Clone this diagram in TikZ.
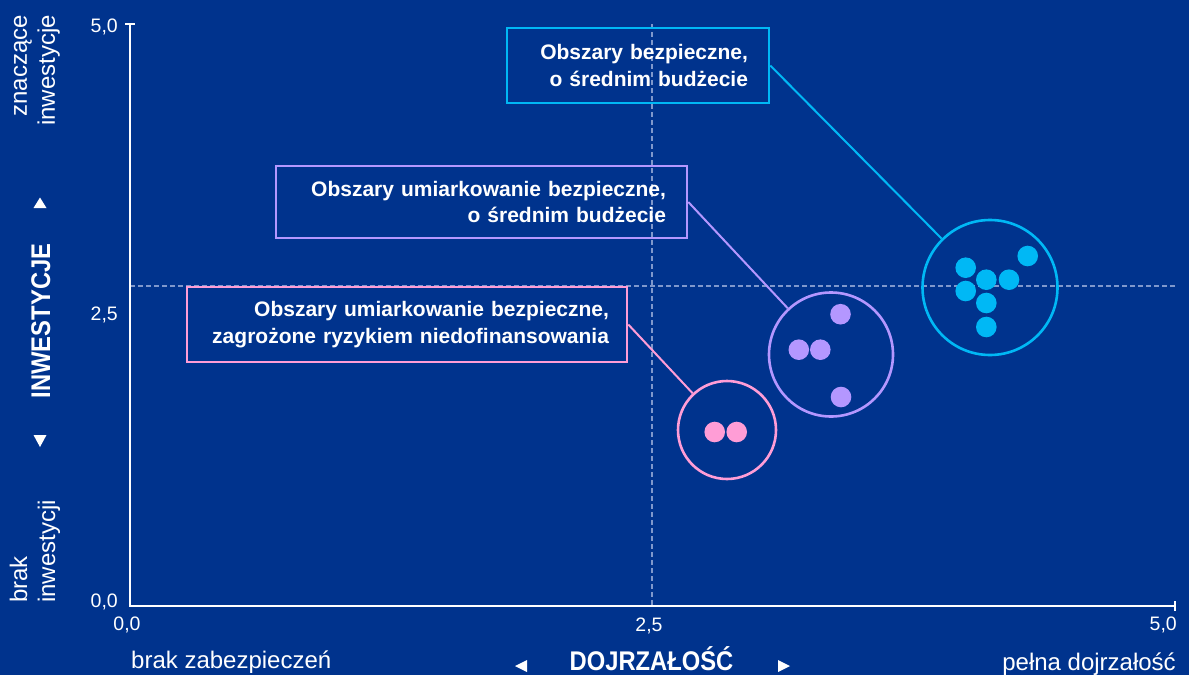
\documentclass[tikz,border=0pt]{standalone}
\usepackage{fontspec}
\setmainfont{Liberation Sans}
\newfontfamily\condfont[FakeStretch=0.88]{Liberation Sans}
\definecolor{bgc}{HTML}{00338D}
\definecolor{cyanc}{HTML}{00B8F5}
\definecolor{purc}{HTML}{B497FF}
\definecolor{pinkc}{HTML}{FF9DD6}
\definecolor{gridc}{HTML}{7F98CC}
\tikzset{
  ticklbl/.style={text=white, font=\fontsize{19.5}{22}\selectfont, inner sep=0pt},
  cornerlbl/.style={text=white, font=\fontsize{24}{28}\selectfont, inner sep=0pt},
  axtitle/.style={text=white, font=\condfont\bfseries\fontsize{27}{30}\selectfont, inner sep=0pt},
  gridline/.style={gridc, line width=1.3pt, dash pattern=on 5pt off 3pt},
  axisline/.style={white, line width=2pt},
  callout/.style={draw, line width=2.6pt, text=white, font=\bfseries\fontsize{21}{26.5}\selectfont, align=right, inner xsep=21pt, inner ysep=0pt},
  ring/.style={circle, draw, line width=2.6pt, inner sep=0pt},
  dot/.style={circle, inner sep=0pt, minimum size=20.6pt},
  link/.style={line width=2pt},
  tri/.style={fill=white},
}
\begin{document}
\begin{tikzpicture}[x=1pt,y=-1pt]
\useasboundingbox (0,0) rectangle (1189,675);
\fill[bgc] (0,0) rectangle (1189,675);

% grid lines
\draw[gridline] (652,24) -- (652,606);
\draw[gridline] (130,286) -- (1175,286);

% axes
\draw[axisline] (130,24) -- (130,606) -- (1175,606);
\draw[axisline] (125,24) -- (135,24);
\draw[axisline] (1175,601) -- (1175,611);

% tick labels
\node[ticklbl, anchor=base east] (y50) at (118,32) {5,0};
\node[ticklbl, anchor=base east] (y25) at (118,320) {2,5};
\node[ticklbl, anchor=base east] (y00) at (118,607) {0,0};
\node[ticklbl, anchor=base] (x00) at (127,630) {0,0};
\node[ticklbl, anchor=base] (x25) at (649,631) {2,5};
\node[ticklbl, anchor=base east] (x50) at (1177,630) {5,0};

% axis end labels
\node[cornerlbl, rotate=90, anchor=east, align=right] (ytop) at (37,15) {znaczące\\inwestycje};
\node[cornerlbl, rotate=90, anchor=west, align=left] (ybot) at (35,603) {brak\\inwestycji};
\node[cornerlbl, anchor=base west] (xleft) at (131,668) {brak zabezpieczeń};
\node[cornerlbl, anchor=base east] (xright) at (1176,670) {pełna dojrzałość};

% axis titles
\node[axtitle, rotate=90, anchor=base] (ytitle) at (50,321) {INWESTYCJE};
\node[axtitle, anchor=base] (xtitle) at (651.5,670) {DOJRZAŁOŚĆ};
\fill[tri] (33.5,208) -- (46.5,208) -- (40,197.5) -- cycle;
\fill[tri] (33.5,435) -- (46.5,435) -- (40,447) -- cycle;
\fill[tri] (527,660) -- (527,672) -- (515,666) -- cycle;
\fill[tri] (778,660) -- (778,672) -- (790,666) -- cycle;

% callout boxes
\node[callout, draw=cyanc, text width=220pt, minimum height=75pt] (cbox) at (638,65.5) {Obszary bezpieczne,\\o średnim budżecie};
\node[callout, draw=purc, text width=369pt, minimum height=72pt] (pbox) at (481.5,202) {Obszary umiarkowanie bezpieczne,\\o średnim budżecie};
\node[callout, draw=pinkc, inner xsep=18pt, text width=404pt, minimum height=75pt] (kbox) at (407,324.5) {Obszary umiarkowanie bezpieczne,\\zagrożone ryzykiem niedofinansowania};

% rings
\node[ring, draw=cyanc, minimum size=135pt] (cring) at (990,287.5) {};
\node[ring, draw=purc, minimum size=124pt] (pring) at (831,354.5) {};
\node[ring, draw=pinkc, minimum size=98pt] (kring) at (727,430) {};

% links
\draw[link, cyanc] (cbox.east) -- (cring);
\draw[link, purc] (pbox.east) -- (pring);
\draw[link, pinkc] (kbox.east) -- (kring);

% dots
\node[dot, fill=cyanc] (c1) at (1027.7,256) {};
\node[dot, fill=cyanc] (c2) at (965.7,267.7) {};
\node[dot, fill=cyanc] (c3) at (986.3,279.7) {};
\node[dot, fill=cyanc] (c4) at (1009,279.7) {};
\node[dot, fill=cyanc] (c5) at (965.7,291) {};
\node[dot, fill=cyanc] (c6) at (986.3,303) {};
\node[dot, fill=cyanc] (c7) at (986.3,327) {};
\node[dot, fill=purc] (p1) at (840.5,314.2) {};
\node[dot, fill=purc] (p2) at (798.8,349.7) {};
\node[dot, fill=purc] (p3) at (820.3,349.7) {};
\node[dot, fill=purc] (p4) at (841,397) {};
\node[dot, fill=pinkc] (k1) at (714.7,432) {};
\node[dot, fill=pinkc] (k2) at (736.7,432) {};
\end{tikzpicture}
\end{document}
